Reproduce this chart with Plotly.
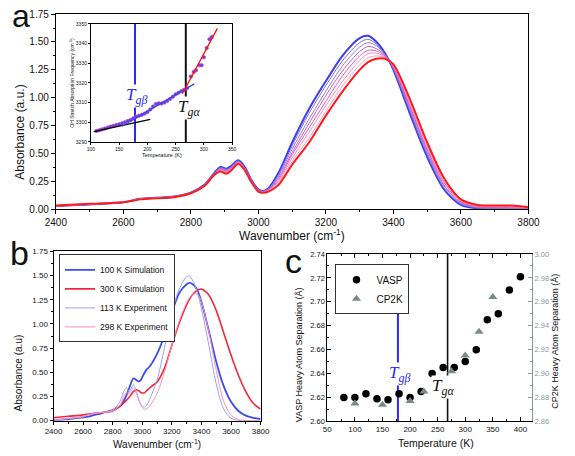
import plotly.graph_objects as go

W, H = 575, 456

# ---------------- Panel a: FTIR spectra ----------------
wn_a = [2400, 2500, 2600, 2650, 2700, 2750, 2800, 2840, 2870, 2888, 2905, 2920, 2940, 2960,
        2980, 3000, 3012, 3030, 3060, 3100, 3150, 3200, 3250, 3300, 3325, 3350, 3375, 3400,
        3450, 3500, 3550, 3600, 3650, 3700, 3750, 3800]
abs_a_cold = [0.030, 0.045, 0.065, 0.095, 0.105, 0.115, 0.150, 0.220, 0.330, 0.380, 0.365, 0.390, 0.440, 0.380,
              0.260, 0.180, 0.165, 0.190, 0.330, 0.600, 0.900, 1.150, 1.380, 1.535, 1.555, 1.500, 1.400, 1.250,
              0.850, 0.470, 0.180, 0.040, 0.008, 0.002, 0.000, 0.000]
abs_a_m1 = [0.030, 0.045, 0.065, 0.094, 0.104, 0.114, 0.149, 0.219, 0.327, 0.374, 0.359, 0.384, 0.436, 0.376,
            0.257, 0.177, 0.163, 0.186, 0.314, 0.570, 0.860, 1.110, 1.335, 1.495, 1.525, 1.480, 1.390, 1.260,
            0.870, 0.490, 0.190, 0.047, 0.013, 0.007, 0.005, 0.003]
abs_a_m2 = [0.031, 0.046, 0.065, 0.094, 0.104, 0.114, 0.149, 0.217, 0.324, 0.369, 0.352, 0.379, 0.431, 0.371,
            0.254, 0.174, 0.161, 0.181, 0.299, 0.540, 0.810, 1.060, 1.290, 1.455, 1.495, 1.465, 1.385, 1.265,
            0.890, 0.510, 0.210, 0.054, 0.017, 0.011, 0.010, 0.006]
abs_a_m3 = [0.032, 0.047, 0.065, 0.093, 0.103, 0.113, 0.148, 0.216, 0.321, 0.363, 0.346, 0.373, 0.427, 0.367,
            0.251, 0.171, 0.159, 0.177, 0.283, 0.510, 0.770, 1.020, 1.245, 1.415, 1.460, 1.440, 1.380, 1.270,
            0.910, 0.530, 0.220, 0.061, 0.022, 0.016, 0.015, 0.009]
abs_a_m4 = [0.033, 0.048, 0.065, 0.092, 0.102, 0.112, 0.147, 0.214, 0.319, 0.357, 0.339, 0.367, 0.423, 0.363,
            0.249, 0.169, 0.156, 0.173, 0.267, 0.490, 0.730, 0.970, 1.200, 1.375, 1.425, 1.420, 1.372, 1.280,
            0.920, 0.540, 0.240, 0.069, 0.026, 0.021, 0.020, 0.011]
abs_a_m5 = [0.033, 0.048, 0.065, 0.091, 0.101, 0.111, 0.146, 0.213, 0.316, 0.351, 0.333, 0.361, 0.419, 0.359,
            0.246, 0.166, 0.154, 0.169, 0.251, 0.460, 0.690, 0.930, 1.150, 1.335, 1.395, 1.400, 1.365, 1.285,
            0.940, 0.560, 0.250, 0.076, 0.031, 0.026, 0.025, 0.014]
abs_a_m6 = [0.034, 0.049, 0.065, 0.091, 0.101, 0.111, 0.146, 0.211, 0.313, 0.346, 0.326, 0.356, 0.414, 0.354,
            0.243, 0.163, 0.152, 0.164, 0.236, 0.430, 0.640, 0.880, 1.110, 1.295, 1.360, 1.375, 1.358, 1.290,
            0.960, 0.580, 0.270, 0.083, 0.035, 0.030, 0.030, 0.017]
abs_a_warm = [0.035, 0.050, 0.065, 0.090, 0.100, 0.110, 0.145, 0.210, 0.310, 0.340, 0.320, 0.350, 0.410, 0.350,
              0.240, 0.160, 0.150, 0.160, 0.220, 0.400, 0.600, 0.840, 1.060, 1.250, 1.320, 1.350, 1.350, 1.300,
              0.980, 0.600, 0.280, 0.090, 0.040, 0.035, 0.035, 0.020]

# ---------------- Inset: OH stretch frequency vs T ----------------
inset_T = [110, 115, 120, 125, 130, 135, 140, 145, 150, 155, 160, 165, 170, 175, 180, 185, 190, 195,
           200, 205, 210, 215, 220, 225, 230, 235, 240, 245, 250, 255, 260, 265, 270, 277, 282, 286,
           292, 296, 300, 305, 310, 314]
inset_freq = [3295.6, 3296.0, 3296.4, 3296.8, 3297.3, 3297.8, 3298.2, 3298.6, 3299.0, 3299.5, 3300.0,
              3300.6, 3301.2, 3302.0, 3302.8, 3303.3, 3303.8, 3304.4, 3305.2, 3306.5, 3308.0, 3309.3,
              3309.6, 3309.5, 3310.0, 3310.8, 3311.8, 3313.0, 3314.2, 3315.0, 3315.8, 3316.5, 3317.3,
              3323.2, 3325.6, 3326.4, 3329.0, 3329.0, 3333.0, 3337.7, 3342.2, 3343.3]
fit_low_T = [105, 205]
fit_low_f = [3295.2, 3301.5]
fit_mid_T = [155, 283]
fit_mid_f = [3298.0, 3319.5]
fit_high_T = [262, 324]
fit_high_f = [3314.5, 3347.7]
Tg_beta = 178
Tg_alpha = 268
inset_f_range = [3290, 3350]

# ---------------- Panel b: simulation vs experiment ----------------
wn_b = [2400, 2500, 2600, 2650, 2700, 2800, 2850, 2880, 2895, 2910, 2940, 2960, 2975, 2990, 3010,
        3030, 3050, 3100, 3150, 3200, 3250, 3300, 3320, 3350, 3375, 3400, 3450, 3500, 3550, 3600,
        3650, 3700, 3750, 3800]
sim_100K = [0.007, 0.017, 0.034, 0.048, 0.067, 0.110, 0.150, 0.220, 0.270, 0.330, 0.438, 0.420, 0.405,
            0.420, 0.480, 0.530, 0.560, 0.690, 0.880, 1.120, 1.320, 1.410, 1.425, 1.400, 1.340, 1.230,
            0.930, 0.610, 0.360, 0.195, 0.100, 0.052, 0.030, 0.017]
sim_300K = [0.030, 0.045, 0.060, 0.070, 0.080, 0.100, 0.150, 0.190, 0.215, 0.240, 0.300, 0.320, 0.310,
            0.292, 0.286, 0.310, 0.340, 0.400, 0.540, 0.780, 1.010, 1.200, 1.260, 1.320, 1.350, 1.360,
            1.300, 1.140, 0.910, 0.680, 0.470, 0.300, 0.180, 0.120]
exp_113K = [0.005, 0.020, 0.040, 0.070, 0.080, 0.110, 0.200, 0.320, 0.340, 0.300, 0.370, 0.300, 0.230,
            0.170, 0.140, 0.160, 0.220, 0.420, 0.750, 1.120, 1.360, 1.490, 1.495, 1.420, 1.310, 1.160,
            0.780, 0.380, 0.120, 0.025, 0.004, 0.000, 0.000, 0.000]
exp_298K = [0.010, 0.025, 0.045, 0.065, 0.080, 0.100, 0.160, 0.270, 0.290, 0.280, 0.340, 0.280, 0.220,
            0.160, 0.120, 0.125, 0.150, 0.280, 0.500, 0.780, 1.030, 1.220, 1.270, 1.310, 1.305, 1.230,
            0.920, 0.520, 0.200, 0.060, 0.012, 0.003, 0.000, 0.000]
legend_b = ["100 K Simulation", "300 K Simulation", "113 K Experiment", "298 K Experiment"]

# ---------------- Panel c: heavy atom separation ----------------
vasp_T = [80, 100, 120, 140, 160, 180, 200, 220, 240, 260, 280, 300, 320, 340, 360, 380, 400]
vasp_sep = [2.620, 2.620, 2.623, 2.619, 2.618, 2.623, 2.620, 2.625, 2.640, 2.645, 2.645, 2.650,
            2.660, 2.685, 2.690, 2.710, 2.721]
cp2k_T = [100, 150, 200, 225, 250, 275, 300, 325, 350]
cp2k_sep = [2.875, 2.874, 2.877, 2.885, 2.889, 2.902, 2.915, 2.935, 2.964]
c_beta_line = [2.60, 2.699]
c_alpha_line = [2.60, 2.74]

FONT = "Liberation Sans, Arial, sans-serif"
SERIF = "Liberation Serif, Times New Roman, serif"


def px(x):
    return x / W


def py(y):
    return 1 - y / H


fig = go.Figure()

# panel a traces
a_series = [(abs_a_cold, "#3c3cf2", 2.0), (abs_a_m1, "#7470e0", 1.0), (abs_a_m2, "#9b78d4", 1.0),
            (abs_a_m3, "#bf62c6", 1.0), (abs_a_m4, "#e05cb8", 1.0), (abs_a_m5, "#ff86cc", 1.0),
            (abs_a_m6, "#ff9ac8", 1.0), (abs_a_warm, "#ff1a1a", 2.0)]
for ys, col, lw in a_series:
    fig.add_trace(go.Scatter(x=wn_a, y=ys, mode="lines", line=dict(color=col, width=lw, shape="spline", smoothing=0.8),
                             xaxis="x", yaxis="y", showlegend=False, hoverinfo="skip"))

# inset traces
fig.add_trace(go.Scatter(x=[Tg_beta, Tg_beta], y=inset_f_range, mode="lines", line=dict(color="#2a2af0", width=2),
                         xaxis="x2", yaxis="y2", showlegend=False))
fig.add_trace(go.Scatter(x=[Tg_alpha, Tg_alpha], y=inset_f_range, mode="lines", line=dict(color="#111111", width=2),
                         xaxis="x2", yaxis="y2", showlegend=False))
fig.add_trace(go.Scatter(x=inset_T, y=inset_freq, mode="markers",
                         marker=dict(color="#6a40e0", size=3.5, symbol="circle",
                                     line=dict(color="#c040c0", width=0.6)),
                         xaxis="x2", yaxis="y2", showlegend=False))
fig.add_trace(go.Scatter(x=fit_low_T, y=fit_low_f, mode="lines", line=dict(color="#000000", width=1.3),
                         xaxis="x2", yaxis="y2", showlegend=False))
fig.add_trace(go.Scatter(x=fit_mid_T, y=fit_mid_f, mode="lines", line=dict(color="#2b4cf0", width=1.3),
                         xaxis="x2", yaxis="y2", showlegend=False))
fig.add_trace(go.Scatter(x=fit_high_T, y=fit_high_f, mode="lines", line=dict(color="#ff1010", width=1.3),
                         xaxis="x2", yaxis="y2", showlegend=False))

# panel b traces
b_series = [(sim_100K, "#3c4cf0", 1.8), (sim_300K, "#f0283c", 1.6), (exp_113K, "#9aa2ee", 1.0),
            (exp_298K, "#ff90b4", 1.0)]
for name, (ys, col, lw) in zip(legend_b, b_series):
    fig.add_trace(go.Scatter(x=wn_b, y=ys, mode="lines", name=name,
                             line=dict(color=col, width=lw, shape="spline", smoothing=0.8),
                             xaxis="x3", yaxis="y3", legend="legend"))

# panel c traces
fig.add_trace(go.Scatter(x=[Tg_beta, Tg_beta], y=c_beta_line, mode="lines", line=dict(color="#2a2af0", width=2),
                         xaxis="x4", yaxis="y4", showlegend=False))
fig.add_trace(go.Scatter(x=[Tg_alpha, Tg_alpha], y=c_alpha_line, mode="lines", line=dict(color="#111111", width=1.6),
                         xaxis="x4", yaxis="y4", showlegend=False))
fig.add_trace(go.Scatter(x=vasp_T, y=vasp_sep, mode="markers", name="VASP",
                         marker=dict(color="#000000", size=7.5, symbol="circle"),
                         xaxis="x4", yaxis="y4", legend="legend2"))
fig.add_trace(go.Scatter(x=cp2k_T, y=cp2k_sep, mode="markers", name="CP2K",
                         marker=dict(color="#7a8a8a", size=8, symbol="triangle-up"),
                         xaxis="x4", yaxis="y5", legend="legend2"))

axis_common = dict(showline=True, linecolor="#000000", linewidth=1, showgrid=False, zeroline=False,
                   tickcolor="#000000")

fig.update_layout(
    width=W, height=H, margin=dict(l=0, r=0, t=0, b=0),
    paper_bgcolor="white", plot_bgcolor="white",
    font=dict(family=FONT, color="#111111"),
    xaxis=dict(domain=[px(46.7), px(539)], anchor="y", range=[2400, 3800], tickvals=list(range(2400, 3801, 200)),
               ticks="outside", ticklen=4, mirror=True, tickfont=dict(size=10),
               minor=dict(dtick=100, ticks="outside", ticklen=2, tickcolor="#000"), **axis_common),
    yaxis=dict(domain=[py(209), py(9.3)], anchor="x", range=[0, 1.75], dtick=0.25, tickformat=".2f",
               ticks="outside", ticklen=4, mirror=True, tickfont=dict(size=10),
               minor=dict(dtick=0.125, ticks="outside", ticklen=2, tickcolor="#000"), **axis_common),
    xaxis2=dict(domain=[px(83.3), px(230.3)], anchor="y2", range=[100, 350], dtick=50,
                ticks="outside", ticklen=2, mirror=True, tickfont=dict(size=5), **axis_common),
    yaxis2=dict(domain=[py(140), py(19.3)], anchor="x2", range=[3290, 3350], dtick=10,
                ticks="outside", ticklen=2, mirror=True, tickfont=dict(size=5), **axis_common),
    xaxis3=dict(domain=[px(44.3), px(260)], anchor="y3", range=[2400, 3800], tickvals=list(range(2400, 3801, 200)),
                ticks="outside", ticklen=3, mirror=True, tickfont=dict(size=8),
                minor=dict(dtick=100, ticks="outside", ticklen=2, tickcolor="#000"), **axis_common),
    yaxis3=dict(domain=[py(425), py(251.9)], anchor="x3", range=[0, 1.75], dtick=0.25, tickformat=".2f",
                ticks="outside", ticklen=3, mirror=True, tickfont=dict(size=8),
                minor=dict(dtick=0.125, ticks="outside", ticklen=2, tickcolor="#000"), **axis_common),
    xaxis4=dict(domain=[px(329.5), px(542.7)], anchor="y4", range=[50, 421], dtick=50,
                ticks="inside", ticklen=4, mirror="ticks", tickfont=dict(size=8),
                minor=dict(dtick=25, ticks="inside", ticklen=2, tickcolor="#000"), **axis_common),
    yaxis4=dict(domain=[py(425.7), py(254.6)], anchor="x4", range=[2.60, 2.74], dtick=0.02, tickformat=".2f",
                ticks="inside", ticklen=4, tickfont=dict(size=7.5),
                minor=dict(dtick=0.01, ticks="inside", ticklen=2, tickcolor="#000"), **axis_common),
    yaxis5=dict(overlaying="y4", anchor="x4", side="right", range=[2.86, 3.00], dtick=0.02, tickformat=".2f",
                showline=True, linecolor="#8a9a9a", linewidth=1, showgrid=False, zeroline=False,
                ticks="inside", ticklen=4, tickcolor="#8a9a9a", tickfont=dict(size=7.5, color="#8a9a9a"),
                minor=dict(dtick=0.01, ticks="inside", ticklen=2, tickcolor="#8a9a9a")),
    legend=dict(x=px(50), y=py(255), xanchor="left", yanchor="top", bgcolor="white",
                bordercolor="#333333", borderwidth=1, font=dict(size=8.5, family=FONT, color="#111"),
                tracegroupgap=0, itemwidth=30),
    legend2=dict(x=px(338), y=py(265), xanchor="left", yanchor="top", bgcolor="white",
                 bordercolor="#333333", borderwidth=1, font=dict(size=10, family=FONT, color="#111"),
                 tracegroupgap=0, itemwidth=30),
)

ann = []


def add_text(text, x, y, size, angle=0, color="#111111", family=FONT, bg=None):
    d = dict(text=text, x=px(x), y=py(y), xref="paper", yref="paper", showarrow=False,
             font=dict(size=size, color=color, family=family), textangle=angle,
             xanchor="center", yanchor="middle")
    if bg:
        d["bgcolor"] = bg
        d["borderpad"] = 0
    ann.append(d)


# panel letters
add_text("a", 10, 11, 32)
add_text("b", 9, 254, 34)
add_text("c", 294, 262, 34)

# axis titles
add_text("Wavenumber (cm<sup>-1</sup>)", 293, 235, 12)
add_text("Absorbance (a.u.)", 10, 130, 12, angle=-90)
add_text("Temperature (K)", 157, 153, 5.5)
add_text("OH Stretch Absorption Frequency (cm<sup>-1</sup>)", 64, 79, 5, angle=-90)
add_text("Wavenumber (cm<sup>-1</sup>)", 152, 449, 10)
add_text("Absorbance (a.u)", 8, 376, 10, angle=-90)
add_text("Temperature (K)", 443, 448, 10.5)
add_text("VASP Heavy Atom Separation (Å)", 300, 358, 9, angle=-90)
add_text("CP2K Heavy Atom Separation (Å)", 567, 344, 9, angle=-90)

# glass transition labels
add_text("<i>T</i><sub><i>gβ</i></sub>", 131, 93, 17, color="#2a2af0", family=SERIF, bg="white")
add_text("<i>T</i><sub><i>gα</i></sub>", 185, 105, 17, color="#111111", family=SERIF, bg="white")
add_text("<i>T</i><sub><i>gβ</i></sub>", 405, 377, 17, color="#2a2af0", family=SERIF, bg="white")
add_text("<i>T</i><sub><i>gα</i></sub>", 450, 391, 17, color="#111111", family=SERIF, bg="white")

fig.update_layout(annotations=ann)

fig.write_html("out.html", config={"displayModeBar": False},
               post_script="document.body.style.margin='0px';document.body.style.padding='0px';")
